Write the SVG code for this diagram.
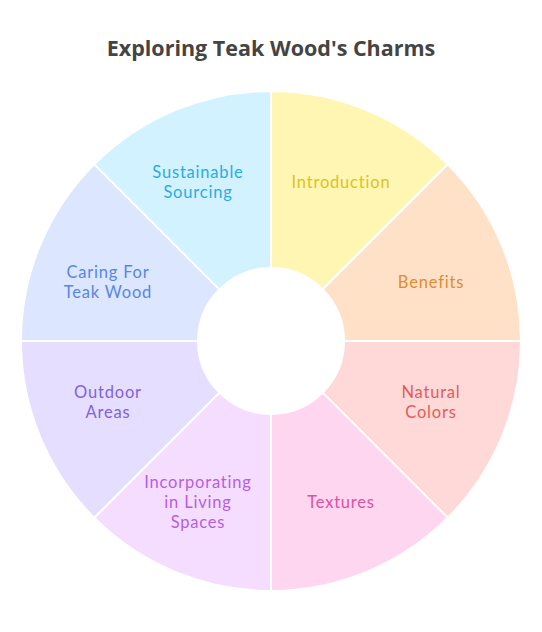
<svg xmlns="http://www.w3.org/2000/svg" width="542" height="632" viewBox="0 0 542 632">
<style>
.seg{stroke:#ffffff;stroke-width:2}
.lbl{font-family:Lato,"Open Sans",sans-serif;font-size:16.5px;letter-spacing:0.8px;text-anchor:middle;dominant-baseline:central}
.title{font-family:"Open Sans","Noto Sans",sans-serif;font-size:21.5px;font-weight:bold;fill:#444444;text-anchor:middle;dominant-baseline:central}
</style>
<rect width="542" height="632" fill="#ffffff"/>
<text class="title" x="271" y="47">Exploring Teak Wood's Charms</text>
<g id="connectors"></g>
<g id="introduction">
<path class="seg" fill="#fff6b3" d="M271,91 A250,250 0 0 1 447.78,164.22 L322.62,289.38 A73,73 0 0 0 271,268 Z"/>
<text class="lbl" fill="#dcc21c" x="341" y="182">Introduction</text>
</g>
<g id="benefits">
<path class="seg" fill="#ffe1c8" d="M447.78,164.22 A250,250 0 0 1 521,341 L344,341 A73,73 0 0 0 322.62,289.38 Z"/>
<text class="lbl" fill="#e38a30" x="431" y="282">Benefits</text>
</g>
<g id="natural-colors">
<path class="seg" fill="#ffd8d8" d="M521,341 A250,250 0 0 1 447.78,517.78 L322.62,392.62 A73,73 0 0 0 344,341 Z"/>
<text class="lbl" fill="#e35c5c" x="431" y="392">Natural</text>
<text class="lbl" fill="#e35c5c" x="431" y="412">Colors</text>
</g>
<g id="textures">
<path class="seg" fill="#ffd6ef" d="M447.78,517.78 A250,250 0 0 1 271,591 L271,414 A73,73 0 0 0 322.62,392.62 Z"/>
<text class="lbl" fill="#e2509f" x="341" y="502">Textures</text>
</g>
<g id="incorporating">
<path class="seg" fill="#f4ddff" d="M271,591 A250,250 0 0 1 94.22,517.78 L219.38,392.62 A73,73 0 0 0 271,414 Z"/>
<text class="lbl" fill="#b75de3" x="198" y="482">Incorporating</text>
<text class="lbl" fill="#b75de3" x="198" y="502">in Living</text>
<text class="lbl" fill="#b75de3" x="198" y="522">Spaces</text>
</g>
<g id="outdoor-areas">
<path class="seg" fill="#e6deff" d="M94.22,517.78 A250,250 0 0 1 21,341 L198,341 A73,73 0 0 0 219.38,392.62 Z"/>
<text class="lbl" fill="#7e62e2" x="108" y="392">Outdoor</text>
<text class="lbl" fill="#7e62e2" x="108" y="412">Areas</text>
</g>
<g id="caring">
<path class="seg" fill="#dce6ff" d="M21,341 A250,250 0 0 1 94.22,164.22 L219.38,289.38 A73,73 0 0 0 198,341 Z"/>
<text class="lbl" fill="#5686e6" x="108" y="272">Caring For</text>
<text class="lbl" fill="#5686e6" x="108" y="292">Teak Wood</text>
</g>
<g id="sustainable">
<path class="seg" fill="#d3f2ff" d="M94.22,164.22 A250,250 0 0 1 271,91 L271,268 A73,73 0 0 0 219.38,289.38 Z"/>
<text class="lbl" fill="#2aace2" x="198" y="172">Sustainable</text>
<text class="lbl" fill="#2aace2" x="198" y="192">Sourcing</text>
</g>
</svg>
